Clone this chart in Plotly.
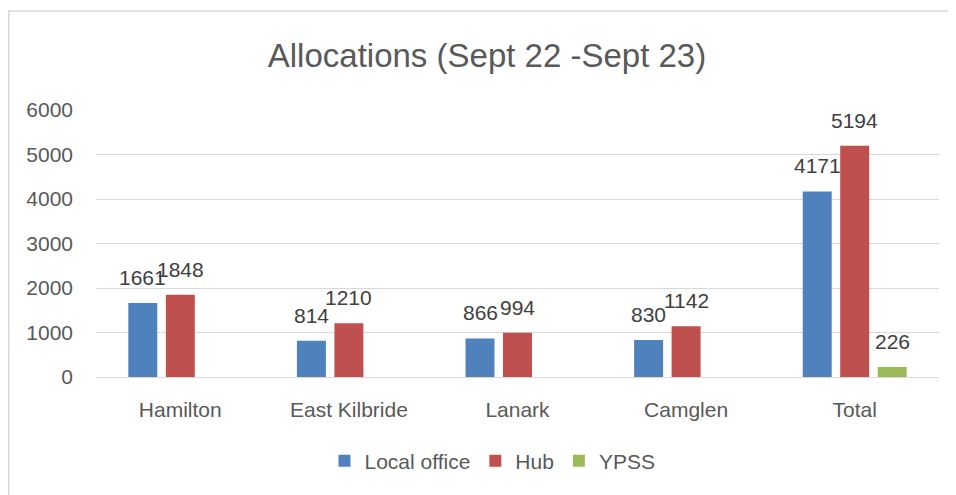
import plotly.graph_objects as go

categories = ["Hamilton", "East Kilbride", "Lanark", "Camglen", "Total"]
local_office = [1661, 814, 866, 830, 4171]
hub = [1848, 1210, 994, 1142, 5194]
ypss = [None, None, None, None, 226]
y_ticks = [0, 1000, 2000, 3000, 4000, 5000, 6000]

series = [
    ("Local office", local_office, "#4F81BD"),
    ("Hub", hub, "#C0504D"),
    ("YPSS", ypss, "#9BBB59"),
]

FONT = "Liberation Sans"
TXT = "#595959"
LBL = "#404040"

# the page body adds an 8px margin; figure is sized to fit the window
W, H = 948, 487

fig = go.Figure()
for name, vals, col in series:
    fig.add_trace(go.Bar(
        x=categories, y=vals, name=name,
        marker=dict(color=col, line=dict(width=0)),
    ))

# data labels (bar-group offsets in px)
offsets = [-37.5, 0, 37.5]
for (name, vals, col), dx in zip(series, offsets):
    for c, v in zip(categories, vals):
        if v is None:
            continue
        fig.add_annotation(
            x=c, y=v, text=str(v), showarrow=False,
            xshift=dx, yshift=12, yanchor="bottom",
            font=dict(family=FONT, size=21, color=LBL),
        )

fig.add_shape(type="rect", xref="paper", yref="paper",
              x0=-0.1035, x1=1.2, y0=-0.6, y1=1.3708,
              line=dict(color="#D9D9D9", width=1.5), fillcolor="rgba(0,0,0,0)",
              layer="below")

fig.update_layout(
    width=W, height=H,
    paper_bgcolor="white", plot_bgcolor="white",
    margin=dict(l=88, r=17, t=102, b=118),
    barmode="group", bargap=0.333, bargroupgap=0.227,
    title=dict(text="Allocations (Sept 22 -Sept 23)",
               x=479 / W, xref="container", xanchor="center",
               y=1 - 47 / H, yref="container", yanchor="middle",
               font=dict(family=FONT, size=33, color=TXT)),
    font=dict(family=FONT, color=TXT),
    legend=dict(orientation="h", x=484.5 / W, xref="container", xanchor="center",
                y=1 - 453 / H, yref="container", yanchor="middle",
                font=dict(family=FONT, size=21, color=TXT),
                itemclick=False),
    showlegend=True,
    xaxis=dict(showgrid=False, showline=False, zeroline=False,
               tickfont=dict(family=FONT, size=21, color=TXT),
               ticks="", ticklabelstandoff=18),
    yaxis=dict(range=[0, 6000], tickvals=y_ticks, showgrid=True,
               gridcolor="#D9D9D9", gridwidth=1,
               zeroline=True, zerolinecolor="#D9D9D9", zerolinewidth=1,
               showline=False, ticks="",
               tickfont=dict(family=FONT, size=21, color=TXT),
               ticklabelstandoff=22),
)

fig.write_html("out.html")
